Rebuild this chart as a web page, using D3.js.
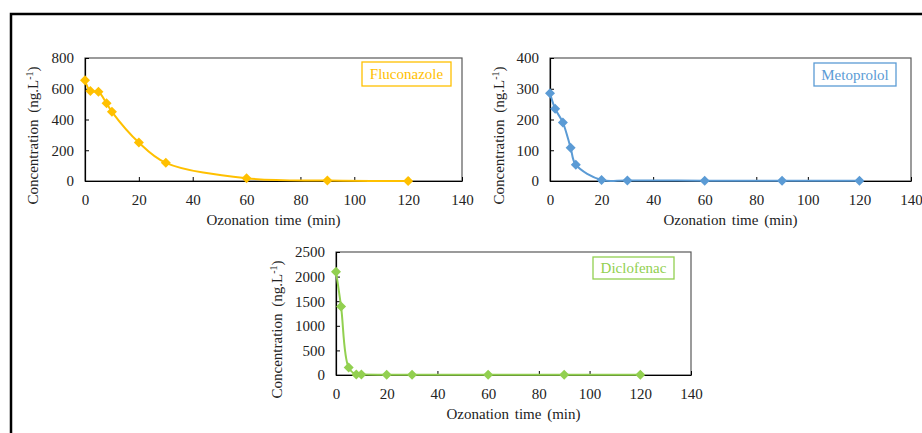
<!DOCTYPE html>
<html>
<head>
<meta charset="utf-8">
<script src="https://cdn.jsdelivr.net/npm/d3@7"></script>
<style>
  body { margin: 0; background: #fff; }
  svg { display: block; }
  svg text { font-family: "Liberation Serif", "Times New Roman", serif; }
</style>
</head>
<body>
<div id="chart"></div>
<script>
// ozonation sampling times (min)
var times = [0, 2, 5, 8, 10, 20, 30, 60, 90, 120];

// concentrations (ng/L)
var fluconazole = [655, 585, 580, 505, 450, 250, 118, 18, 3, 0];
var metoprolol = [285, 235, 190, 108, 53, 3, 2, 1, 1, 1];
var diclofenac = [2100, 1390, 150, 10, 10, 5, 5, 5, 5, 5];

var xTicks = [0, 20, 40, 60, 80, 100, 120, 140];
var flucoTicks = [0, 200, 400, 600, 800];
var metoTicks = [0, 100, 200, 300, 400];
var dicloTicks = [0, 500, 1000, 1500, 2000, 2500];

var width = 922, height = 433;

var svg = d3.select("#chart")
  .append("svg")
    .attr("width", width)
    .attr("height", height);

//outer frame (only top and left edges are visible)
svg.append("path")
  .attr("d", "M11,433 V14 H922")
  .attr("fill", "none")
  .attr("stroke", "#000")
  .attr("stroke-width", 2.5);

//panel layouts
var panels = [
  {name: "Fluconazole", values: fluconazole, ticks: flucoTicks, color: "#FFC000",
   left: 85, right: 462, top: 58, bottom: 181, titleX: 38, legend: [362, 62, 89, 24]},
  {name: "Metoprolol", values: metoprolol, ticks: metoTicks, color: "#5B9BD5",
   left: 550, right: 911, top: 58, bottom: 181, titleX: 504, legend: [814, 63, 82, 23]},
  {name: "Diclofenac", values: diclofenac, ticks: dicloTicks, color: "#92D050",
   left: 336, right: 691, top: 252, bottom: 375, titleX: 282, legend: [593, 257, 81, 22]}
];

panels.forEach(drawPanel);

function drawPanel(p) {
  var x = d3.scaleLinear().domain([0, 140]).range([p.left, p.right]);
  var y = d3.scaleLinear().domain([0, d3.max(p.ticks)]).range([p.bottom, p.top]);

  var g = svg.append("g");

  //plot frame
  g.append("rect")
    .attr("x", p.left)
    .attr("y", p.top)
    .attr("width", p.right - p.left)
    .attr("height", p.bottom - p.top)
    .attr("fill", "none")
    .attr("stroke", "#595959")
    .attr("stroke-width", 1.2);

  //x axis, ticks pointing inside
  var xAxis = g.append("g")
    .attr("transform", "translate(0," + p.bottom + ")")
    .call(d3.axisBottom(x).tickValues(xTicks).tickFormat(d3.format("d"))
      .tickSizeInner(-4).tickSizeOuter(0).tickPadding(13));

  //y axis
  var yAxis = g.append("g")
    .attr("transform", "translate(" + p.left + ",0)")
    .call(d3.axisLeft(y).tickValues(p.ticks).tickFormat(d3.format("d"))
      .tickSizeInner(-4).tickSizeOuter(0).tickPadding(11));

  [xAxis, yAxis].forEach(function(ax) {
    ax.attr("font-family", null).attr("font-size", null);
    ax.select(".domain").attr("stroke", "#000").attr("stroke-width", 1.2);
    ax.selectAll(".tick line").attr("stroke", "#000");
    ax.selectAll("text")
      .attr("fill", "#222")
      .style("font-size", "15px");
  });

  //axis titles
  g.append("text")
    .attr("x", (p.left + p.right) / 2)
    .attr("y", p.bottom + 44)
    .attr("text-anchor", "middle")
    .attr("fill", "#222")
    .style("font-size", "15px")
    .style("word-spacing", "2px")
    .text("Ozonation time (min)");

  var yTitle = g.append("text")
    .attr("transform", "translate(" + p.titleX + "," + ((p.top + p.bottom) / 2 + 16) + ") rotate(-90)")
    .attr("text-anchor", "middle")
    .attr("fill", "#222")
    .style("font-size", "15px")
    .style("word-spacing", "3px");
  yTitle.append("tspan").text("Concentration (ng.L");
  yTitle.append("tspan").attr("dy", -5).style("font-size", "10px").text("-1");
  yTitle.append("tspan").attr("dy", 5).text(")");

  //smoothed line
  var pts = times.map(function(t, i) { return [t, p.values[i]]; });
  var line = d3.line()
    .x(function(d) { return x(d[0]); })
    .y(function(d) { return y(d[1]); })
    .curve(d3.curveCatmullRom.alpha(0.5));
  g.append("path")
    .datum(pts)
    .attr("d", line)
    .attr("fill", "none")
    .attr("stroke", p.color)
    .attr("stroke-width", 2);

  //diamond markers
  g.selectAll(".marker")
    .data(pts)
    .enter()
    .append("path")
      .attr("class", "marker")
      .attr("transform", function(d) { return "translate(" + x(d[0]) + "," + y(d[1]) + ")"; })
      .attr("d", "M0,-5 L5,0 L0,5 L-5,0 Z")
      .attr("fill", p.color);

  //legend box
  g.append("rect")
    .attr("x", p.legend[0])
    .attr("y", p.legend[1])
    .attr("width", p.legend[2])
    .attr("height", p.legend[3])
    .attr("fill", "#fff")
    .attr("stroke", p.color)
    .attr("stroke-width", 1.3);
  g.append("text")
    .attr("x", p.legend[0] + p.legend[2] / 2)
    .attr("y", p.legend[1] + p.legend[3] / 2 + 5)
    .attr("text-anchor", "middle")
    .attr("fill", p.color)
    .style("font-size", "15px")
    .text(p.name);
}
</script>
</body>
</html>
